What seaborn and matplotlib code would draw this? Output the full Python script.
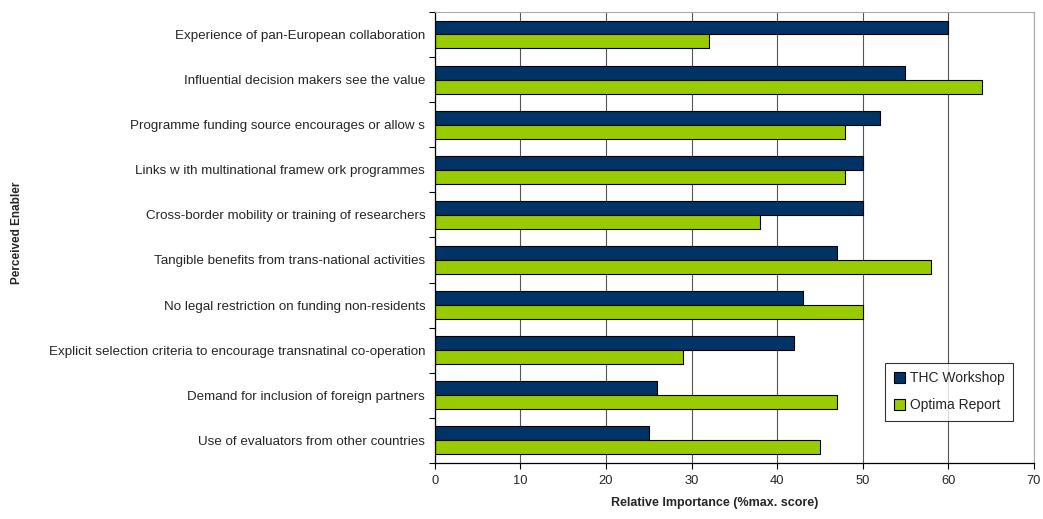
import matplotlib
matplotlib.use("Agg")
import matplotlib.pyplot as plt
import seaborn as sns
import pandas as pd
import numpy as np
from matplotlib.ticker import FixedLocator

enablers = [
    "Experience of pan-European collaboration",
    "Influential decision makers see the value",
    "Programme funding source encourages or allow s",
    "Links w ith multinational framew ork programmes",
    "Cross-border mobility or training of researchers",
    "Tangible benefits from trans-national activities",
    "No legal restriction on funding non-residents",
    "Explicit selection criteria to encourage transnatinal co-operation",
    "Demand for inclusion of foreign partners",
    "Use of evaluators from other countries",
]
thc_workshop = [60, 55, 52, 50, 50, 47, 43, 42, 26, 25]
optima_report = [32, 64, 48, 48, 38, 58, 50, 29, 47, 45]
series_names = ["THC Workshop", "Optima Report"]
x_ticks = [0, 10, 20, 30, 40, 50, 60, 70]

df = pd.DataFrame({
    "Enabler": enablers * 2,
    "Score": thc_workshop + optima_report,
    "Source": [series_names[0]] * len(enablers) + [series_names[1]] * len(enablers),
})

sns.set_theme(style="white")
plt.rcParams["font.family"] = ["Liberation Sans", "DejaVu Sans"]

fig = plt.figure(figsize=(10.43, 5.19), dpi=100)
ax = fig.add_axes([0.417, 0.108, 0.574, 0.869])

sns.barplot(
    data=df, y="Enabler", x="Score", hue="Source", hue_order=series_names,
    order=enablers, orient="h", palette=["#003366", "#99CC00"],
    width=0.62, edgecolor="black", linewidth=0.8, ax=ax, errorbar=None,
    saturation=1,
)

ax.set_xlim(0, 70)
ax.set_ylim(len(enablers) - 0.5, -0.5)
ax.set_xticks(x_ticks)
ax.tick_params(axis="x", labelsize=9.3, length=4, width=0.8, color="black",
               direction="out", bottom=True, pad=5)
ax.tick_params(axis="y", which="major", labelsize=9.6, length=0, pad=7)
ax.yaxis.set_minor_locator(FixedLocator(np.arange(-0.5, len(enablers), 1.0)))
ax.tick_params(axis="y", which="minor", length=4, width=0.8, color="black",
               direction="out", left=True)

ax.xaxis.grid(True, color="#555555", linewidth=0.8)
ax.set_axisbelow(True)

for side in ["left", "bottom"]:
    ax.spines[side].set_color("black")
    ax.spines[side].set_linewidth(0.9)
for side in ["top", "right"]:
    ax.spines[side].set_color("#aaaaaa")
    ax.spines[side].set_linewidth(0.8)

ax.set_xlabel("Relative Importance (%max. score)", fontsize=9.0,
              fontweight="bold")
ax.xaxis.set_label_coords(0.468, -0.075)
ax.set_ylabel("")
fig.text(17 / 1043, 1 - 233 / 519, "Perceived Enabler", rotation=90,
         fontsize=8.5, fontweight="bold", ha="center", va="center")

leg = ax.legend(loc="lower right", bbox_to_anchor=(0.978, 0.078), fontsize=10,
                frameon=True, fancybox=False, edgecolor="black",
                handlelength=0.8, handleheight=0.8, handletextpad=0.4,
                borderpad=0.6, labelspacing=0.95, title=None)
leg.get_frame().set_linewidth(0.8)

fig.savefig("out.png", dpi=100)
